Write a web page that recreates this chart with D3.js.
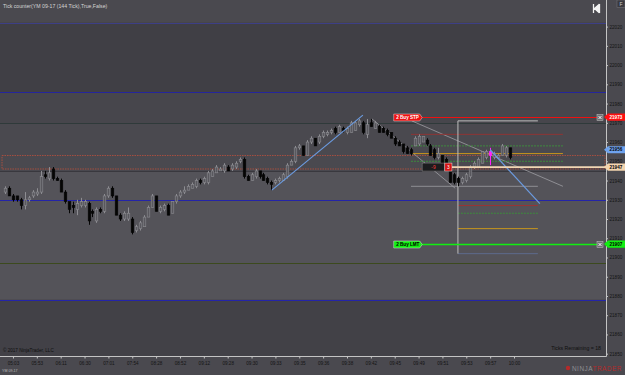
<!DOCTYPE html>
<html>
<head>
<meta charset="utf-8">
<script src="https://cdn.jsdelivr.net/npm/d3@7"></script>
<style>
  html, body { margin: 0; padding: 0; background: #4a494f; overflow: hidden; }
  svg { display: block; font-family: "Liberation Sans", Arial, sans-serif; }
</style>
</head>
<body>
<div id="mainDiv"></div>
<script>
'use strict';

// YM 09-17, 144 tick bars
var opens = [21934,21936,21932,21932,21930,21927,21930,21932,21933,21934,
  21943,21941,21946,21941,21940,21934,21929,21927,21925,21927,
  21927,21928,21924,21919,21925,21924,21932,21936,21932,21922,
  21920,21920,21920,21914,21915,21916,21921,21926,21932,21924,
  21925,21927,21923,21929,21932,21934,21935,21936,21937,21940,
  21939,21939,21942,21944,21945,21945,21947,21946,21947,21950,
  21951,21942,21940,21942,21945,21943,21941,21939,21939,21940,
  21940,21942,21948,21950,21957,21958,21953,21960,21962,21960,
  21963,21964,21965,21967,21965,21967,21965,21965,21966,21969,
  21970,21964,21970,21967,21968,21967,21966,21965,21962,21960,
  21959,21957,21956,21958,21959,21960,21961,21958,21956,21952,
  21953,21951,21947,21943,21941,21939,21940,21942,21947,21947,
  21949,21952,21955,21952,21952,21953,21953,21957];
var highs = [21937,21937,21933,21932,21931,21934,21932,21935,21936,21945,
  21945,21947,21947,21942,21941,21935,21929,21929,21930,21931,
  21930,21929,21925,21926,21926,21933,21937,21937,21932,21923,
  21924,21926,21921,21917,21919,21922,21927,21933,21932,21927,
  21928,21928,21929,21933,21935,21937,21938,21939,21941,21941,
  21942,21945,21946,21948,21947,21949,21948,21949,21950,21952,
  21952,21943,21944,21946,21945,21944,21942,21940,21941,21942,
  21944,21949,21951,21958,21959,21958,21961,21963,21962,21964,
  21966,21966,21967,21968,21969,21968,21968,21971,21971,21972,
  21971,21972,21972,21971,21969,21968,21967,21965,21963,21961,
  21959,21958,21957,21963,21964,21963,21962,21959,21957,21957,
  21953,21952,21948,21944,21942,21942,21944,21948,21950,21952,
  21955,21956,21957,21955,21954,21959,21958,21957];
var lows = [21933,21932,21929,21929,21925,21925,21929,21931,21932,21933,
  21941,21940,21940,21940,21934,21928,21923,21923,21922,21926,
  21926,21917,21921,21918,21923,21923,21931,21931,21922,21919,
  21919,21919,21912,21913,21914,21916,21921,21926,21924,21923,
  21924,21922,21923,21928,21931,21933,21935,21936,21936,21938,
  21938,21938,21942,21944,21945,21944,21945,21945,21946,21949,
  21941,21940,21940,21941,21941,21940,21938,21935,21938,21939,
  21940,21941,21948,21949,21956,21953,21953,21959,21958,21959,
  21962,21963,21964,21964,21965,21965,21964,21965,21966,21968,
  21964,21962,21968,21967,21965,21965,21963,21962,21958,21958,
  21954,21954,21953,21958,21958,21960,21958,21953,21951,21951,
  21948,21946,21939,21938,21937,21938,21939,21941,21946,21947,
  21949,21951,21948,21951,21952,21953,21952,21951];
var closes = [21936,21932,21930,21930,21927,21930,21931,21934,21934,21942,
  21942,21944,21941,21940,21934,21929,21925,21926,21928,21929,
  21929,21919,21923,21925,21924,21932,21936,21932,21922,21920,
  21923,21923,21913,21916,21918,21921,21926,21932,21924,21926,
  21927,21922,21929,21932,21934,21935,21937,21938,21940,21939,
  21941,21944,21945,21947,21946,21948,21945,21948,21949,21951,
  21942,21940,21943,21945,21942,21940,21939,21938,21940,21941,
  21943,21948,21950,21957,21958,21953,21960,21962,21958,21963,
  21965,21965,21966,21965,21968,21966,21967,21970,21970,21971,
  21965,21969,21968,21970,21965,21965,21964,21962,21959,21958,
  21955,21954,21954,21962,21963,21963,21959,21953,21952,21954,
  21949,21947,21939,21939,21939,21941,21943,21947,21949,21951,
  21955,21955,21953,21954,21953,21958,21957,21952];

// time axis
var timeLabels = ['05:03','05:53','06:11','06:30','07:01','07:54','08:28','08:52','09:12','09:28','09:30',
  '09:33','09:35','09:36','09:38','09:42','09:45','09:49','09:51','09:53','09:57','10:00'];
var timeTickBars = [2,8,14,20,26,32,38,44,50,56,62,68,74,80,86,92,98,104,110,116,122,128];

// price axis
var priceTicks = [22020,22010,22000,21990,21980,21970,21960,21950,21940,21930,21920,21910,21900,21890,21880,21870,21860,21850];

// horizontal levels across the whole panel
var levelPrices = [22022, 21986, 21970, 21945, 21930, 21897, 21878];
var bandEdges = [22022, 21986, 21970, 21945, 21878];

// red zone box (top, bottom)
var zonePrices = [21953, 21946];

// orders: quantity/type and price
var orderNames = ['2  Buy STP', '2  Buy LMT'];
var orderPrices = [21973, 21907];
var orderStartBar = 98;

// position
var positionPrice = 21947;
var positionText = ['-9', '3'];
var positionBars = [104.9, 110.6, 112.4];

// right axis flags
var flagPrices = [21973, 21956, 21947, 21907];

// hand drawn lines [bar1, price1, bar2, price2]
var trendLines = [[67.1, 21935, 90, 21974], [122, 21956, 134.5, 21928]];
var grayLines = [[102.3, 21971, 140.3, 21937], [92.3, 21972, 113.2, 21936], [102.1, 21937, 134, 21937]];

// fib levels
var fibUpperPrices = [21964, 21958, 21954, 21950];
var fibUpperBars = [102.1, 140.3];
var fibLowerPrices = [21971, 21927, 21923, 21915, 21902];
var fibLowerBars = [113.9, 134];

var markedBar = 122;

var chart = {};

chart.w = 625;
chart.h = 375;
chart.plotRight = 606;
chart.plotBottom = 356;

chart.upColor = '#8d8d92';
chart.upFill = '#59585e';
chart.downColor = '#050505';
chart.axisText = '#141414';

chart.levelColors = ['#3d3f86', '#25259c', '#2f3a3a', '#39383e', '#2424a8', '#3c4a1e', '#2424a8'];
chart.bandColors = ['#4a494f', '#403f45', '#47464c', '#4a494f', '#545359', '#424147'];
chart.fibUpperColors = ['#8e3434', '#3d8a3d', '#c8961c', '#3d8a3d'];
chart.fibUpperDash = ['', '2,1', '', '2,1'];
chart.fibLowerColors = ['#bdbdbd', '#9a3434', '#3d8a3d', '#c8961c', '#5c6a8c'];
chart.fibLowerDash = ['', '', '2,1', '', ''];
chart.orderColors = ['#ee1111', '#11ee11'];
chart.orderTextColors = ['#ffffff', '#000000'];
chart.flagColors = ['#ff1010', '#6fa3ee', '#f3d4ae', '#11ee11'];
chart.flagTextColors = ['#ffffff', '#000000', '#000000', '#000000'];

chart.xScale = d3.scaleLinear().domain([0, 128]).range([5, 514]);
chart.yScale = d3.scaleLinear().domain([21850, 22020]).range([353.7, 26.6]);

chart.appendSvg = function(div)
{
  return d3.select(div).append('svg')
    .attr('width', chart.w)
    .attr('height', chart.h);
}

chart.drawBands = function(svg)
{
  var y = chart.yScale;
  var edges = [0].concat(bandEdges.map(function(p) { return y(p); })).concat([chart.plotBottom]);

  svg.append('rect').attr('width', chart.w).attr('height', chart.h).attr('fill', '#4a494f');

  svg.selectAll('rect.band')
    .data(d3.range(edges.length - 1))
    .enter()
    .append('rect')
    .attr('class', 'band')
    .attr('x', 0)
    .attr('y', function(i) { return edges[i]; })
    .attr('width', chart.plotRight)
    .attr('height', function(i) { return edges[i + 1] - edges[i]; })
    .attr('fill', function(i) { return chart.bandColors[i]; });

  svg.selectAll('line.level')
    .data(levelPrices)
    .enter()
    .append('line')
    .attr('class', 'level')
    .attr('x1', 0)
    .attr('x2', chart.plotRight)
    .attr('y1', function(d) { return Math.round(y(d)) + 0.5; })
    .attr('y2', function(d) { return Math.round(y(d)) + 0.5; })
    .attr('stroke', function(d, i) { return chart.levelColors[i]; })
    .attr('stroke-width', 1);

  // red zone
  svg.append('rect')
    .attr('x', chart.xScale(-0.75))
    .attr('y', y(zonePrices[0]))
    .attr('width', chart.plotRight - chart.xScale(-0.75) - 1)
    .attr('height', y(zonePrices[1]) - y(zonePrices[0]))
    .attr('fill', 'none')
    .attr('stroke', '#b2503e')
    .attr('stroke-width', 0.9)
    .attr('stroke-dasharray', '1.5,1');
}

chart.drawDrawings = function(svg)
{
  var x = chart.xScale, y = chart.yScale;

  function seg(g, d, color, width, dash)
  {
    g.append('line')
      .attr('x1', x(d[0])).attr('y1', y(d[1]))
      .attr('x2', x(d[2])).attr('y2', y(d[3]))
      .attr('stroke', color)
      .attr('stroke-width', width)
      .attr('stroke-dasharray', dash || null);
  }

  var g = svg.append('g').attr('class', 'drawings');

  grayLines.forEach(function(d) { seg(g, d, '#9d9da2', 0.8); });

  fibUpperPrices.forEach(function(p, i) {
    seg(g, [fibUpperBars[0], p, fibUpperBars[1], p], chart.fibUpperColors[i], 1, chart.fibUpperDash[i]);
  });
  fibLowerPrices.forEach(function(p, i) {
    seg(g, [fibLowerBars[0], p, fibLowerBars[1], p], chart.fibLowerColors[i], 1, chart.fibLowerDash[i]);
  });
  seg(g, [fibLowerBars[0], fibLowerPrices[0], fibLowerBars[0], fibLowerPrices[fibLowerPrices.length - 1]], '#bdbdbd', 1);

  return g;
}

chart.drawCandles = function(svg)
{
  var x = chart.xScale, y = chart.yScale;
  var bars = opens.map(function(o, i) {
    return {i: i, o: o, h: highs[i], l: lows[i], c: closes[i]};
  });

  var g = svg.append('g').attr('class', 'candles');

  var cand = g.selectAll('g')
    .data(bars)
    .enter()
    .append('g');

  function col(d)
  {
    if (d.i === markedBar) return '#ff22ff';
    return d.c >= d.o ? chart.upColor : chart.downColor;
  }

  cand.append('line')
    .attr('x1', function(d) { return Math.round(x(d.i)) + 0.5; })
    .attr('x2', function(d) { return Math.round(x(d.i)) + 0.5; })
    .attr('y1', function(d) { return y(d.h); })
    .attr('y2', function(d) { return y(d.l); })
    .attr('stroke', col)
    .attr('stroke-width', 1);

  cand.append('rect')
    .attr('x', function(d) { return Math.round(x(d.i)) - 0.8; })
    .attr('y', function(d) { return y(Math.max(d.o, d.c)); })
    .attr('width', 2.6)
    .attr('height', function(d) { return Math.max(0.8, Math.abs(y(d.o) - y(d.c))); })
    .attr('fill', function(d) {
      if (d.i === markedBar) return '#ff22ff';
      return d.c >= d.o ? chart.upFill : chart.downColor;
    })
    .attr('stroke', col)
    .attr('stroke-width', 0.6);

  return g;
}

chart.drawTrendLines = function(svg)
{
  var x = chart.xScale, y = chart.yScale;
  svg.selectAll('line.trend')
    .data(trendLines)
    .enter()
    .append('line')
    .attr('class', 'trend')
    .attr('x1', function(d) { return x(d[0]); })
    .attr('y1', function(d) { return y(d[1]); })
    .attr('x2', function(d) { return x(d[2]); })
    .attr('y2', function(d) { return y(d[3]); })
    .attr('stroke', '#6b9be0')
    .attr('stroke-width', 1.2);
}

chart.drawOrders = function(svg)
{
  var x = chart.xScale, y = chart.yScale;
  var x0 = x(orderStartBar);

  orderPrices.forEach(function(p, i) {
    var yc = Math.round(y(p)) + 0.5;
    svg.append('line')
      .attr('x1', x0).attr('x2', chart.plotRight - 3)
      .attr('y1', yc).attr('y2', yc)
      .attr('stroke', chart.orderColors[i])
      .attr('stroke-width', i === 1 ? 1.5 : 1);

    svg.append('path')
      .attr('d', 'M' + (x0 - 1) + ',' + (yc - 3.5) + 'H' + (x0 + 25) + 'L' + (x0 + 27.5) + ',' + yc +
        'L' + (x0 + 25) + ',' + (yc + 3.5) + 'H' + (x0 - 1) + 'Z')
      .attr('fill', chart.orderColors[i])
      .attr('stroke', '#d8d8d8')
      .attr('stroke-width', 0.5);

    svg.append('text')
      .attr('x', x0 + 1.5)
      .attr('y', yc + 1.6)
      .attr('font-size', 4.6)
      .attr('font-weight', 'bold')
      .attr('fill', chart.orderTextColors[i])
      .text(orderNames[i]);

    // close button
    var bx = chart.plotRight - 9;
    svg.append('rect')
      .attr('x', bx).attr('y', yc - 3)
      .attr('width', 6).attr('height', 6)
      .attr('fill', '#6e6e72').attr('stroke', '#c8c8c8').attr('stroke-width', 0.5);
    svg.append('path')
      .attr('d', 'M' + (bx + 1.5) + ',' + (yc - 1.5) + 'L' + (bx + 4.5) + ',' + (yc + 1.5) +
        'M' + (bx + 4.5) + ',' + (yc - 1.5) + 'L' + (bx + 1.5) + ',' + (yc + 1.5))
      .attr('stroke', '#ffffff').attr('stroke-width', 0.9);
  });

  // position line and box
  var yp = y(positionPrice);
  svg.append('line')
    .attr('x1', x(positionBars[2])).attr('x2', chart.plotRight)
    .attr('y1', yp).attr('y2', yp)
    .attr('stroke', '#f0d6b4').attr('stroke-width', 1.8);

  svg.append('rect')
    .attr('x', x(positionBars[0])).attr('y', yp - 4)
    .attr('width', x(positionBars[1]) - x(positionBars[0])).attr('height', 8)
    .attr('fill', '#1c1c1e').attr('stroke', '#8a8a8a').attr('stroke-width', 0.5);
  svg.append('rect')
    .attr('x', x(positionBars[1])).attr('y', yp - 4)
    .attr('width', x(positionBars[2]) - x(positionBars[1])).attr('height', 8)
    .attr('fill', '#d41414').attr('stroke', '#e8e8e8').attr('stroke-width', 0.5);
  svg.append('text')
    .attr('x', (x(positionBars[0]) + x(positionBars[1])) / 2).attr('y', yp + 1.7)
    .attr('text-anchor', 'middle').attr('font-size', 4.8)
    .attr('fill', '#ff3a3a').text(positionText[0]);
  svg.append('text')
    .attr('x', (x(positionBars[1]) + x(positionBars[2])) / 2).attr('y', yp + 1.7)
    .attr('text-anchor', 'middle').attr('font-size', 4.8)
    .attr('fill', '#ffffff').text(positionText[1]);
}

chart.drawAxes = function(svg)
{
  var x = chart.xScale, y = chart.yScale;

  var yAxis = d3.axisRight(y).tickValues(priceTicks).tickSize(2).tickPadding(1.5).tickFormat(d3.format('d'));
  var yg = svg.append('g')
    .attr('transform', 'translate(' + chart.plotRight + ',0)')
    .call(yAxis);
  yg.select('.domain').remove();
  yg.selectAll('line').attr('stroke', '#c4c4c4');
  yg.selectAll('text').attr('font-size', 4.6).attr('fill', chart.axisText)
    .attr('font-family', '"Liberation Sans", Arial, sans-serif');

  var xAxis = d3.axisBottom(x).tickValues(timeTickBars).tickSize(2.5).tickPadding(3)
    .tickFormat(function(d, i) { return timeLabels[i]; });
  var xg = svg.append('g')
    .attr('transform', 'translate(0,' + chart.plotBottom + ')')
    .call(xAxis);
  xg.select('.domain').remove();
  xg.selectAll('line').attr('stroke', '#c4c4c4');
  xg.selectAll('text').attr('font-size', 4.6).attr('fill', chart.axisText)
    .attr('font-family', '"Liberation Sans", Arial, sans-serif');

  svg.append('line')
    .attr('x1', chart.plotRight + 0.5).attr('x2', chart.plotRight + 0.5)
    .attr('y1', 0).attr('y2', chart.plotBottom + 0.5)
    .attr('stroke', '#c4c4c4');
  svg.append('line')
    .attr('x1', 0).attr('x2', chart.plotRight + 0.5)
    .attr('y1', chart.plotBottom + 0.5).attr('y2', chart.plotBottom + 0.5)
    .attr('stroke', '#c4c4c4');
}

chart.drawFlags = function(svg)
{
  var y = chart.yScale;
  var x0 = chart.plotRight - 2;
  flagPrices.forEach(function(p, i) {
    var yc = y(p);
    svg.append('path')
      .attr('d', 'M' + x0 + ',' + yc + 'L' + (x0 + 4) + ',' + (yc - 3.6) + 'H' + chart.w +
        'V' + (yc + 3.6) + 'H' + (x0 + 4) + 'Z')
      .attr('fill', chart.flagColors[i]);
    svg.append('text')
      .attr('x', x0 + 5.5).attr('y', yc + 1.6)
      .attr('font-size', 4.6).attr('font-weight', 'bold')
      .attr('fill', chart.flagTextColors[i])
      .text(d3.format('d')(p));
  });
}

chart.drawTexts = function(svg)
{
  svg.append('text')
    .attr('x', 3).attr('y', 8)
    .attr('font-size', 5.2).attr('fill', '#d4d4d4')
    .text('Tick counter(YM 09-17 (144 Tick),True,False)');

  svg.append('text')
    .attr('x', 3).attr('y', 352)
    .attr('font-size', 4.6).attr('fill', '#101010')
    .text('\u00a9 2017 NinjaTrader, LLC');

  svg.append('text')
    .attr('x', 601).attr('y', 350)
    .attr('text-anchor', 'end')
    .attr('font-size', 5.2).attr('fill', '#101010')
    .text('Ticks Remaining = 18');

  svg.append('text')
    .attr('x', 2).attr('y', 372)
    .attr('font-size', 3.6).attr('fill', '#bdbdbd')
    .text('YM 09-17');

  // logo
  svg.append('circle').attr('cx', 568).attr('cy', 368).attr('r', 2.2).attr('fill', '#b52a2a');
  var logo = svg.append('text')
    .attr('x', 572).attr('y', 370.5)
    .attr('font-size', 6.4).attr('letter-spacing', 0.5);
  logo.append('tspan').attr('fill', '#8e8e92').text('NINJA');
  logo.append('tspan').attr('fill', '#b52a2a').text('TRADER');

  // top right buttons
  svg.append('path')
    .attr('d', 'M593.5,4V13M599.5,4V13M598.5,5L594.5,8.5L598.5,12Z')
    .attr('stroke', '#f2f2f2').attr('stroke-width', 1.3).attr('fill', '#f2f2f2');
  svg.append('rect')
    .attr('x', 617).attr('y', 0).attr('width', 8).attr('height', 7.5)
    .attr('fill', '#3a393f').attr('stroke', '#7a7a7e').attr('stroke-width', 0.5);
  svg.append('text')
    .attr('x', 621).attr('y', 5.6).attr('text-anchor', 'middle')
    .attr('font-size', 5).attr('fill', '#cfcfcf').text('F');
}

chart.run = function()
{
  var svg = chart.appendSvg('#mainDiv');
  chart.drawBands(svg);
  chart.drawDrawings(svg);
  chart.drawCandles(svg);
  chart.drawTrendLines(svg);
  chart.drawOrders(svg);
  chart.drawAxes(svg);
  chart.drawFlags(svg);
  chart.drawTexts(svg);
}

window.onload = chart.run;
</script>
</body>
</html>
